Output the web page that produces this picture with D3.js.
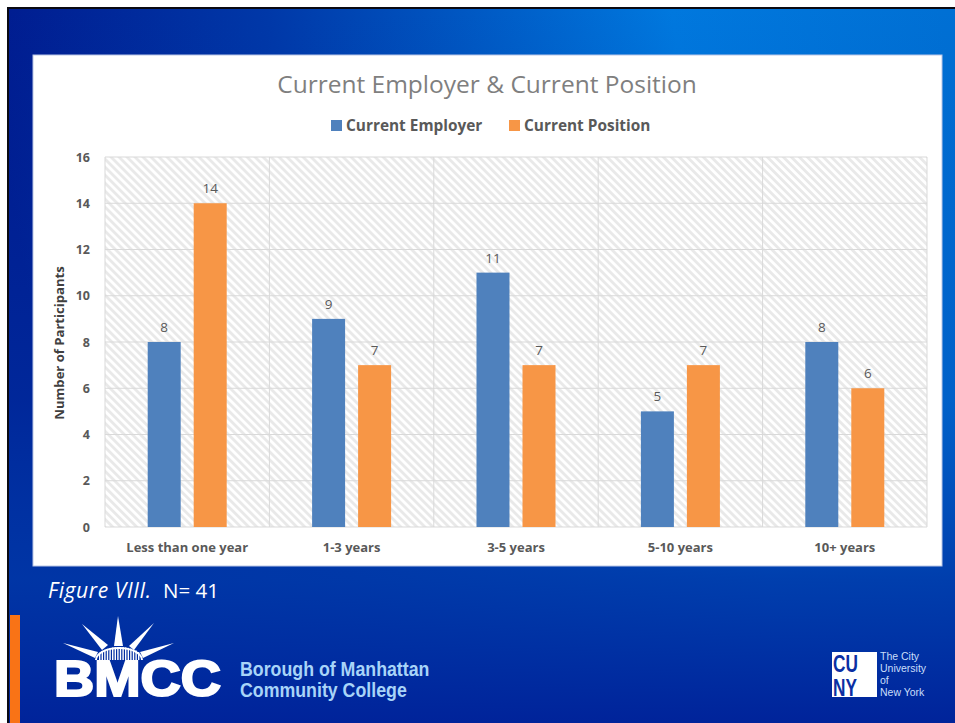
<!DOCTYPE html>
<html><head><meta charset="utf-8">
<script src="https://cdn.jsdelivr.net/npm/d3@7/dist/d3.min.js"></script>
<style>html,body{margin:0;padding:0;background:#fff;overflow:hidden}svg{display:block}</style>
</head><body><svg id="c" width="955" height="723" font-family="'Open Sans',sans-serif"></svg>
<script>
const categories=["Less than one year","1-3 years","3-5 years","5-10 years","10+ years"];
const seriesNames=["Current Employer","Current Position"];
const employer=[8,9,11,5,8];
const position=[14,7,7,7,6];
const yTicks=[0,2,4,6,8,10,12,14,16];
const colors=["#4f81bd","#f79646"];

const svg=d3.select("#c"), defs=svg.append("defs");
const bg=defs.append("linearGradient").attr("id","bg").attr("x1",0).attr("y1",0.25).attr("x2",1).attr("y2",0.12);
[[0,"#001a8e"],[0.3,"#0038a8"],[0.72,"#0078de"],[1,"#0070d4"]].forEach(s=>bg.append("stop").attr("offset",s[0]).attr("stop-color",s[1]));
const bg2=defs.append("linearGradient").attr("id","bg2").attr("x1",0).attr("y1",0).attr("x2",0).attr("y2",1);
[[0,"#0038a8",0],[0.55,"#0040b0",0.35],[0.8,"#0038a8",0.9],[1,"#00239a",1]].forEach(s=>bg2.append("stop").attr("offset",s[0]).attr("stop-color",s[1]).attr("stop-opacity",s[2]));
const hatch=defs.append("pattern").attr("id","hatch").attr("width",5.66).attr("height",5.66).attr("patternUnits","userSpaceOnUse").attr("patternTransform","rotate(-45)");
hatch.append("rect").attr("width",5.66).attr("height",5.66).attr("fill","#fff");
hatch.append("rect").attr("width",2.8).attr("height",5.66).attr("fill","#e9e9e9");

svg.append("rect").attr("x",7).attr("y",7).attr("width",948).attr("height",716).attr("fill","#0a0a12");
svg.append("rect").attr("x",9).attr("y",9).attr("width",946).attr("height",714).attr("fill","url(#bg)");
svg.append("rect").attr("x",9).attr("y",9).attr("width",946).attr("height",714).attr("fill","url(#bg2)");
svg.append("rect").attr("x",10).attr("y",615).attr("width",10).attr("height",108).attr("fill","#f97316");

svg.append("rect").attr("x",33).attr("y",55).attr("width",909).attr("height",511).attr("fill","#fff").attr("stroke","#b9c6e6").attr("stroke-width",1);

const plot={l:105,r:927,t:157,b:527};
const x=d3.scaleBand().domain(categories).range([plot.l,plot.r]);
const barW=33, gap=13;
const xs=d3.scaleOrdinal().domain(seriesNames).range([-(barW+gap/2),gap/2]);
const y=d3.scaleLinear().domain([0,16]).range([plot.b,plot.t]);

svg.append("rect").attr("x",plot.l).attr("y",plot.t).attr("width",plot.r-plot.l).attr("height",plot.b-plot.t).attr("fill","url(#hatch)");
svg.append("g").selectAll("line").data(yTicks).join("line")
 .attr("x1",plot.l).attr("x2",plot.r).attr("y1",d=>y(d)).attr("y2",d=>y(d)).attr("stroke","#d9d9d9").attr("stroke-width",1);
svg.append("g").selectAll("line").data([...categories.map(c=>x(c)),plot.r]).join("line")
 .attr("x1",d=>d).attr("x2",d=>d).attr("y1",plot.t).attr("y2",plot.b).attr("stroke","#d9d9d9").attr("stroke-width",1);

const yAxis=d3.axisLeft(y).tickValues(yTicks).tickSize(0).tickPadding(15);
const gy=svg.append("g").attr("transform",`translate(${plot.l},0)`).call(yAxis);
gy.select(".domain").remove();
gy.attr("font-family",null);
gy.selectAll("text").attr("font-size",12.5).attr("font-weight",700).attr("fill","#595959");
const xAxis=d3.axisBottom(x).tickSize(0).tickPadding(16);
const gx=svg.append("g").attr("transform",`translate(0,${plot.b})`).call(xAxis);
gx.select(".domain").remove();
gx.attr("font-family",null);
gx.selectAll("text").attr("font-size",13).attr("font-weight",700).attr("fill","#595959");

[employer,position].forEach((vals,si)=>{
 const g=svg.append("g");
 const pts=vals.map((v,i)=>({v,c:categories[i]}));
 g.selectAll("rect").data(pts).join("rect")
  .attr("x",d=>x(d.c)+x.bandwidth()/2+xs(seriesNames[si])).attr("width",barW)
  .attr("y",d=>y(d.v)).attr("height",d=>y(0)-y(d.v)).attr("fill",colors[si]);
 g.selectAll("text").data(pts).join("text")
  .attr("x",d=>x(d.c)+x.bandwidth()/2+xs(seriesNames[si])+barW/2).attr("y",d=>y(d.v)-10)
  .attr("text-anchor","middle").attr("font-size",13.5).attr("fill","#595959").text(d=>d.v);
});

svg.append("text").attr("x",487).attr("y",93).attr("text-anchor","middle").attr("font-size",24.5).attr("fill","#7f7f7f").text("Current Employer & Current Position");
const legend=[{x:331,tx:346},{x:509,tx:524}];
seriesNames.forEach((n,i)=>{
 svg.append("rect").attr("x",legend[i].x).attr("y",120).attr("width",11).attr("height",11).attr("fill",colors[i]);
 svg.append("text").attr("x",legend[i].tx).attr("y",131).attr("font-size",15.4).attr("font-weight",700).attr("fill","#595959").text(n);
});
svg.append("text").attr("transform","translate(64,343) rotate(-90)").attr("text-anchor","middle").attr("font-size",13.1).attr("font-weight",700).attr("fill","#404040").text("Number of Participants");

const cap=svg.append("text").attr("y",598).attr("fill","#fff");
cap.append("tspan").attr("x",48).attr("font-style","italic").attr("font-size",21).attr("letter-spacing",0.6).text("Figure VIII.");
cap.append("tspan").attr("x",163).attr("font-size",20.5).text("N= 41");

// BMCC logo
const logo=svg.append("g").attr("fill","#fff");
["M118,616 L123,646 L114,646 Z","M82,624 L108,645 L102,650 Z","M154,623 L129,646 L134,650 Z","M63,643 L98,652 L95,658 Z","M174,643 L140,652 L143,658 Z"].forEach(d=>logo.append("path").attr("d",d));
logo.append("path").attr("d","M95,660 A24,13 0 0 1 143,660 L141,660 A22,11 0 0 0 97,660 Z");
logo.selectAll(".b").data(d3.range(99,140,2.6)).join("rect").attr("class","b").attr("x",d=>d).attr("y",d=>660-13*Math.sqrt(Math.max(0,1-((d-119)/24)**2))).attr("width",1.4).attr("height",d=>13*Math.sqrt(Math.max(0,1-((d-119)/24)**2)));
svg.append("text").attr("x",54).attr("y",696).attr("font-size",50).attr("font-weight",700).attr("fill","#fff").attr("stroke","#fff").attr("stroke-width",2.2).attr("textLength",167).attr("lengthAdjust","spacingAndGlyphs").attr("font-family","'Liberation Sans'").text("BMCC");
const bl=svg.append("text").attr("fill","#a8d4f8").attr("font-size",20.5).attr("font-weight",700).attr("font-family","'Liberation Sans'").attr("transform","translate(240,0) scale(0.867,1)");
bl.append("tspan").attr("x",0).attr("y",676).text("Borough of Manhattan");
bl.append("tspan").attr("x",0).attr("y",697).text("Community College");

// CUNY logo
svg.append("rect").attr("x",832).attr("y",652).attr("width",45).attr("height",45).attr("fill","#fff");
const cu=svg.append("text").attr("fill","#0b2fa3").attr("font-size",23).attr("font-weight",700).attr("font-family","'Liberation Sans'").attr("transform","translate(833,0) scale(0.75,1)");
cu.append("tspan").attr("x",0).attr("y",672).text("CU");
cu.append("tspan").attr("x",0).attr("y",696).text("NY");
const ct=svg.append("text").attr("fill","#c9defa").attr("font-size",10.5).attr("font-family","'Liberation Sans'");
["The City","University","of","New York"].forEach((t,i)=>ct.append("tspan").attr("x",880).attr("y",660+i*12).text(t));
</script></body></html>
